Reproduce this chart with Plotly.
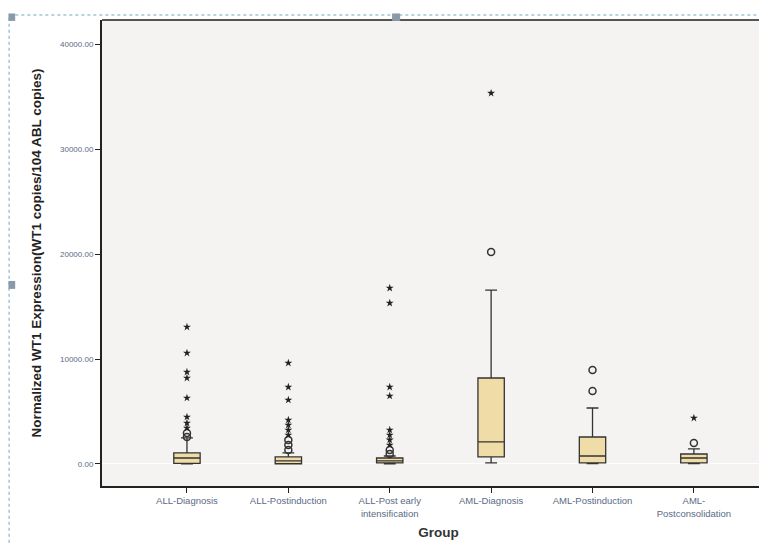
import plotly.graph_objects as go

categories = ["ALL-Diagnosis", "ALL-Postinduction", "ALL-Post early<br>intensification",
              "AML-Diagnosis", "AML-Postinduction", "AML-<br>Postconsolidation"]
q1 = [60, 20, 100, 670, 100, 100]
median = [570, 290, 290, 2100, 760, 570]
q3 = [1050, 670, 570, 8190, 2570, 950]
lowerfence = [0, 0, 0, 100, 30, 30]
upperfence = [2480, 1050, 760, 16570, 5330, 1430]

# mild outliers (circles) and extreme values (stars)
outliers = [
    [2950, 2570],
    [2290, 1810, 1330],
    [1330, 960],
    [20190],
    [8950, 6950],
    [2000],
]
extremes = [
    [13050, 10570, 8760, 8190, 6290, 4480, 3900, 3430],
    [9620, 7330, 6100, 4190, 3710, 3240, 2760],
    [16760, 15330, 7330, 6480, 3240, 2760, 2290, 1810],
    [35330],
    [],
    [4380],
]

y_ticks = [0, 10000, 20000, 30000, 40000]

fig = go.Figure()
fig.add_trace(go.Box(
    x=categories, q1=q1, median=median, q3=q3,
    lowerfence=lowerfence, upperfence=upperfence,
    fillcolor="#f0dca6", line=dict(color="#333333", width=1.3),
    width=0.26, whiskerwidth=0.45, boxpoints=False, showlegend=False,
))

ox, oy, ex, ey = [], [], [], []
for c, vals in zip(categories, outliers):
    ox += [c] * len(vals); oy += vals
for c, vals in zip(categories, extremes):
    ex += [c] * len(vals); ey += vals

fig.add_trace(go.Scatter(x=ox, y=oy, mode="markers", showlegend=False,
                         marker=dict(symbol="circle-open", size=7, color="#333333",
                                     line=dict(width=1.5, color="#333333"))))
fig.add_trace(go.Scatter(x=ex, y=ey, mode="markers", showlegend=False,
                         marker=dict(symbol="star", size=6, color="#222222")))

ytick_font = dict(family="Liberation Sans, Arial", size=8, color="#5a6a84")
xtick_font = dict(family="Liberation Sans, Arial", size=9.5, color="#5a6a84")

fig.update_layout(
    width=767, height=545,
    margin=dict(l=94, r=0, t=12, b=67),
    paper_bgcolor="white", plot_bgcolor="#f4f3f2",
    xaxis=dict(
        type="category", categoryorder="array", categoryarray=categories,
        range=[-0.838, 5.8], showgrid=False, zeroline=False,
        showline=True, linecolor="#222222", linewidth=2,
        ticks="outside", ticklen=5, tickcolor="#222222",
        tickfont=xtick_font,
        title=dict(text="<b>Group</b>", font=dict(family="Liberation Sans, Arial", size=13.5, color="#333333"),
                   standoff=10),
    ),
    yaxis=dict(
        range=[-2100, 42300], tickvals=y_ticks, tickformat=".2f",
        showgrid=False, zeroline=True, zerolinecolor="#ffffff", zerolinewidth=1,
        showline=True, linecolor="#222222", linewidth=2,
        ticks="outside", ticklen=5, tickcolor="#222222",
        tickfont=ytick_font,
        title=dict(text="<b>Normalized WT1 Expression(WT1 copies/104 ABL copies)</b>",
                   font=dict(family="Liberation Sans, Arial", size=13.5, color="#222222"),
                   standoff=15),
    ),
    shapes=[
        dict(type="line", xref="paper", yref="paper", x0=0, x1=1, y0=1, y1=1,
             line=dict(color="#555555", width=2)),
        dict(type="rect", xref="paper", yref="paper", x0=-0.138, x1=1.05, y0=-0.2, y1=1.0107,
             line=dict(color="#9ec4dc", width=1.5, dash="dot"), layer="above"),
        dict(type="rect", xref="paper", yref="paper", x0=-0.139, x1=-0.129, y0=0.998, y1=1.014,
             fillcolor="#8a9aa8", line=dict(width=0)),
        dict(type="rect", xref="paper", yref="paper", x0=0.431, x1=0.443, y0=0.998, y1=1.014,
             fillcolor="#8a9aa8", line=dict(width=0)),
        dict(type="rect", xref="paper", yref="paper", x0=-0.139, x1=-0.129, y0=0.423, y1=0.44,
             fillcolor="#8a9aa8", line=dict(width=0)),
    ],
)

fig.write_html("out.html")
